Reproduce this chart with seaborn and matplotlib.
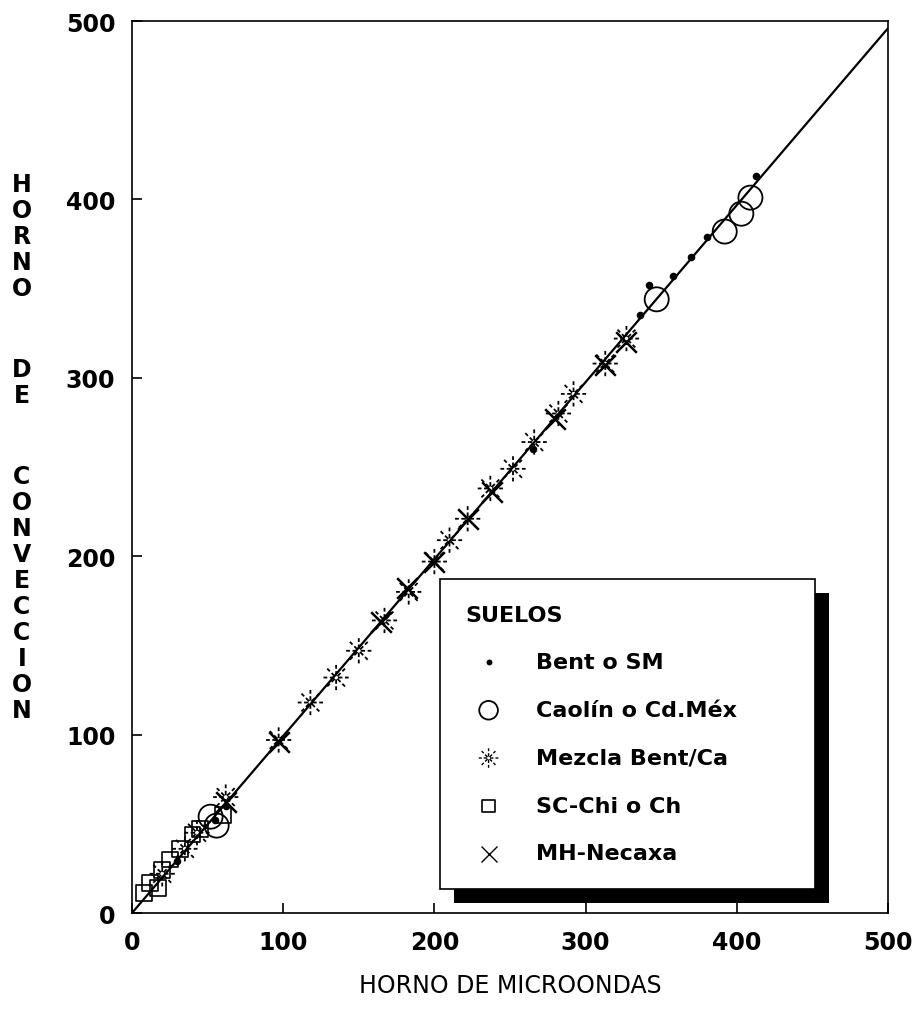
import numpy as np
import pandas as pd
import seaborn as sns
import matplotlib.pyplot as plt
from matplotlib.path import Path
from matplotlib.patches import Rectangle
from matplotlib.transforms import IdentityTransform

# datos (horno de microondas vs horno de conveccion)
bent_x = [30, 55, 62, 265, 336, 342, 358, 370, 380, 413]
bent_y = [29, 52, 60, 260, 335, 352, 357, 368, 379, 413]

caolin_x = [52, 56, 347, 392, 403, 409]
caolin_y = [54, 49, 344, 382, 392, 401]

mezcla_x = [20, 35, 43, 62, 97, 118, 135, 150, 167, 183, 200, 210, 222, 237, 252, 266, 282, 292, 313, 327]
mezcla_y = [22, 36, 45, 65, 97, 118, 132, 147, 164, 180, 197, 209, 221, 238, 249, 264, 280, 291, 308, 322]

scchi_x = [8, 12, 17, 20, 25, 32, 40, 45, 60]
scchi_y = [11, 17, 14, 24, 30, 36, 44, 47, 55]

mh_x = [62, 97, 165, 182, 200, 222, 238, 280, 313, 327]
mh_y = [62, 96, 163, 182, 197, 221, 236, 277, 307, 320]

fit_x = [0, 500]
fit_y = [0, 496]

etiquetas = ["Bent o SM", "Caolín o Cd.Méx", "Mezcla Bent/Ca", "SC-Chi o Ch", "MH-Necaxa"]


def marcador_mezcla():
    # asterisco de trazos cortados
    verts, codes = [], []
    for ang in np.arange(0, 2 * np.pi, np.pi / 4):
        c, s = np.cos(ang), np.sin(ang)
        for r0, r1 in [(0.15, 0.5), (0.7, 1.0)]:
            verts += [(r0 * c, r0 * s), (r1 * c, r1 * s)]
            codes += [Path.MOVETO, Path.LINETO]
    return Path(verts, codes)


sns.set_style("ticks")
plt.rcParams['font.family'] = ['DejaVu Sans']
for k in ["text.color", "axes.labelcolor", "xtick.color", "ytick.color", "axes.edgecolor"]:
    plt.rcParams[k] = "black"

fig = plt.figure(figsize=(9.19, 10.2), dpi=100)
ax = fig.add_axes([0.1436, 0.1039, 0.8227, 0.8745])

sns.lineplot(x=fit_x, y=fit_y, color="black", linewidth=1.6, ax=ax)

sns.scatterplot(x=bent_x, y=bent_y, marker="o", s=30, color="black",
                edgecolor="black", linewidth=0, ax=ax, label=etiquetas[0], zorder=4)
sns.scatterplot(x=caolin_x, y=caolin_y, marker="o", s=300, color="black",
                facecolor="none", edgecolor="black", linewidth=1.3, ax=ax,
                label=etiquetas[1], zorder=3)
sns.scatterplot(x=mezcla_x, y=mezcla_y, marker=marcador_mezcla(), s=330,
                color="black", facecolor="none", edgecolor="black",
                linewidth=1.3, ax=ax, label=etiquetas[2], zorder=3)
sns.scatterplot(x=scchi_x, y=scchi_y, marker="s", s=130, color="black",
                facecolor="none", edgecolor="black", linewidth=1.2, ax=ax,
                label=etiquetas[3], zorder=3)
sns.scatterplot(x=mh_x, y=mh_y, marker="x", s=220, color="black",
                linewidth=1.8, ax=ax, label=etiquetas[4], zorder=3)

ax.set_xlim(0, 500)
ax.set_ylim(0, 500)
ax.set_xticks([0, 100, 200, 300, 400, 500])
ax.set_yticks([0, 100, 200, 300, 400, 500])
ax.tick_params(direction="in", length=7, width=1.2, labelsize=17, pad=12)
for lab in ax.get_xticklabels() + ax.get_yticklabels():
    lab.set_fontweight("bold")
for sp in ax.spines.values():
    sp.set_visible(True)
    sp.set_linewidth(1.2)
    sp.set_color("black")

ax.set_xlabel("HORNO DE MICROONDAS", fontsize=17, labelpad=14)
ax.set_ylabel("")

# etiqueta vertical letra por letra
letras = "HORNO DE CONVECCION"
ypix = 185
for ch in letras:
    if ch == " ":
        ypix += 55
        continue
    fig.text(22 / 919, 1 - ypix / 1020, ch, fontsize=17, fontweight="bold",
             ha="center", va="center")
    ypix += 26

leg = ax.legend(title="SUELOS", loc="upper left", bbox_to_anchor=(0.407, 0.3745, 0.496, 0.0),
                mode="expand", borderaxespad=0, frameon=True, fancybox=False,
                framealpha=1, edgecolor="black", fontsize=16, title_fontsize=16,
                alignment="left", borderpad=1.15, labelspacing=1.25,
                handlelength=2.1, handletextpad=1.1)
leg.get_frame().set_linewidth(1.2)
leg.get_title().set_fontweight("bold")
for t in leg.get_texts():
    t.set_fontweight("bold")
for hnd in leg.legend_handles:
    try:
        hnd.set_sizes([s * 0.6 for s in hnd.get_sizes()])
    except Exception:
        pass
leg.legend_handles[4].set_linewidths([1.0])
leg.legend_handles[2].set_linewidths([1.0])
leg.set_zorder(10)

fig.canvas.draw()
bb = leg.get_window_extent()
sombra = Rectangle((bb.x0 + 14, bb.y0 - 14), bb.width, bb.height,
                   transform=IdentityTransform(), facecolor="black",
                   edgecolor="none", zorder=6)
ax.add_artist(sombra)

fig.savefig("out.png", dpi=100)
